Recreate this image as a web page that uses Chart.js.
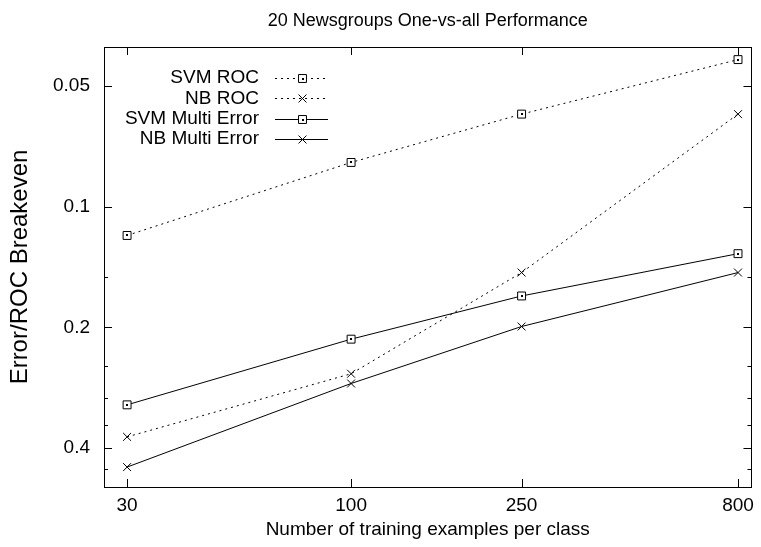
<!DOCTYPE html>
<html><head><meta charset="utf-8">
<script src="https://cdn.jsdelivr.net/npm/chart.js@4/dist/chart.umd.min.js"></script>
<style>html,body{margin:0;padding:0;background:#fff}#wrap{width:761px;height:547px}</style>
</head><body><div id="wrap"><canvas id="c" width="761" height="547"></canvas></div>
<script>
const trainingSizes = [30, 100, 250, 800];
const svmRoc = [0.118, 0.0776, 0.0588, 0.043];
const nbRoc = [0.375, 0.261, 0.146, 0.0588];
const svmMultiError = [0.312, 0.214, 0.167, 0.131];
const nbMultiError = [0.446, 0.276, 0.199, 0.146];
const xTickValues = [30, 100, 250, 800];
const yTickValues = [0.05, 0.1, 0.2, 0.4];
const yMinorTickValues = [0.15, 0.25, 0.3, 0.35, 0.45];
const seriesNames = ['SVM ROC', 'NB ROC', 'SVM Multi Error', 'NB Multi Error'];
const chartTitle = '20 Newsgroups One-vs-all Performance';
const xTitle = 'Number of training examples per class';
const yTitle = 'Error/ROC Breakeven';

const FONT = '"Liberation Sans", Arial, Helvetica, sans-serif';
const FS = 19;

function pts(vals) { return trainingSizes.map((x, i) => ({ x: x, y: vals[i] })); }
function ds(label, vals, dashed, style) {
  return {
    label: label, data: pts(vals),
    borderColor: '#000', borderWidth: 1, borderDash: dashed ? [2, 4] : [],
    pointStyle: style, pointRadius: 5.6, pointHoverRadius: 5.6,
    pointBorderColor: '#000', pointBorderWidth: 1,
    pointBackgroundColor: style === 'rect' ? '#fff' : 'rgba(0,0,0,0)', fill: false, tension: 0
  };
}

const titleCentered = {
  id: 'titleCentered',
  afterDraw(chart) {
    const { ctx, chartArea: a } = chart;
    ctx.save();
    ctx.font = '18px ' + FONT;
    ctx.fillStyle = '#000'; ctx.textAlign = 'center'; ctx.textBaseline = 'middle';
    ctx.fillText(chartTitle, (a.left + a.right) / 2, 21);
    ctx.restore();
  }
};

const frameTicks = {
  id: 'frameTicks',
  afterDatasetsDraw(chart) {
    const { ctx, chartArea: a, scales } = chart;
    ctx.save();
    ctx.strokeStyle = '#000'; ctx.lineWidth = 1;
    ctx.strokeRect(Math.round(a.left) + 0.5, Math.round(a.top) + 0.5, Math.round(a.right - a.left), Math.round(a.bottom - a.top));
    ctx.beginPath();
    xTickValues.forEach(v => {
      const x = Math.round(scales.x.getPixelForValue(v)) + 0.5;
      ctx.moveTo(x, a.bottom); ctx.lineTo(x, a.bottom - 8);
      ctx.moveTo(x, a.top); ctx.lineTo(x, a.top + 8);
    });
    yTickValues.forEach(v => {
      const y = Math.round(scales.y.getPixelForValue(v)) + 0.5;
      ctx.moveTo(a.left, y); ctx.lineTo(a.left + 8, y);
      ctx.moveTo(a.right, y); ctx.lineTo(a.right - 8, y);
    });
    yMinorTickValues.forEach(v => {
      const y = Math.round(scales.y.getPixelForValue(v)) + 0.5;
      ctx.moveTo(a.left, y); ctx.lineTo(a.left + 4, y);
      ctx.moveTo(a.right, y); ctx.lineTo(a.right - 4, y);
    });
    ctx.stroke();
    // centre dots of square markers
    ctx.fillStyle = '#000';
    chart.data.datasets.forEach((d, i) => {
      if (d.pointStyle !== 'rect') return;
      chart.getDatasetMeta(i).data.forEach(p => { ctx.fillRect(Math.round(p.x) - 1, Math.round(p.y) - 1, 2, 2); });
    });
    ctx.restore();
  }
};

const insetLegend = {
  id: 'insetLegend',
  afterDatasetsDraw(chart) {
    const { ctx } = chart;
    const textRight = 259, lineL = 275, lineR = 328, y0 = 78, dy = 20.3;
    ctx.save();
    ctx.font = FS + 'px ' + FONT;
    ctx.textAlign = 'right'; ctx.textBaseline = 'middle';
    chart.data.datasets.forEach((d, i) => {
      const y = y0 + i * dy;
      const yy = Math.round(y) + 0.5;
      ctx.fillStyle = '#000';
      ctx.fillText(d.label, textRight, y);
      ctx.save();
      ctx.strokeStyle = d.borderColor; ctx.lineWidth = 1;
      ctx.setLineDash(d.borderDash);
      ctx.beginPath(); ctx.moveTo(lineL, yy); ctx.lineTo(lineR, yy); ctx.stroke();
      ctx.setLineDash([]);
      const cx = Math.round((lineL + lineR) / 2) + 0.5;
      ctx.fillStyle = d.pointBackgroundColor; ctx.strokeStyle = '#000';
      Chart.helpers.drawPoint(ctx, { pointStyle: d.pointStyle, radius: d.pointRadius, rotation: 0, borderWidth: 1 }, cx, yy);
      if (d.pointStyle === 'rect') { ctx.fillStyle = '#000'; ctx.fillRect(Math.round(cx) - 1, Math.round(yy) - 1, 2, 2); }
      ctx.restore();
    });
    ctx.restore();
  }
};

new Chart(document.getElementById('c'), {
  type: 'line',
  data: {
    datasets: [
      ds(seriesNames[0], svmRoc, true, 'rect'),
      ds(seriesNames[1], nbRoc, true, 'crossRot'),
      ds(seriesNames[2], svmMultiError, false, 'rect'),
      ds(seriesNames[3], nbMultiError, false, 'crossRot')
    ]
  },
  options: {
    responsive: false, animation: false, devicePixelRatio: 1,
    layout: { padding: { left: 0, right: 5, top: 47, bottom: 0 } },
    plugins: {
      legend: { display: false },
      tooltip: { enabled: false },
      title: { display: false }
    },
    scales: {
      x: {
        type: 'logarithmic', min: 26.5, max: 860,
        afterBuildTicks: s => { s.ticks = xTickValues.map(v => ({ value: v })); },
        afterFit: s => { s.height = 60; },
        ticks: { callback: v => String(v), color: '#000', font: { family: FONT, size: FS }, padding: 7, maxRotation: 0, autoSkip: false },
        grid: { display: false, drawTicks: false }, border: { display: false },
        title: { display: true, text: xTitle, color: '#000', font: { family: FONT, size: FS }, padding: { top: 0, bottom: 6 } }
      },
      y: {
        type: 'logarithmic', reverse: true, min: 0.04, max: 0.5,
        afterBuildTicks: s => { s.ticks = yTickValues.map(v => ({ value: v })); },
        afterFit: s => { s.width = 104; },
        ticks: { callback: v => String(v), color: '#000', font: { family: FONT, size: FS }, padding: 14, autoSkip: false },
        grid: { display: false, drawTicks: false }, border: { display: false },
        title: { display: true, text: yTitle, color: '#000', font: { family: FONT, size: 24 }, padding: { top: 6, bottom: 0 } }
      }
    }
  },
  plugins: [frameTicks, insetLegend, titleCentered]
});
</script></body></html>
